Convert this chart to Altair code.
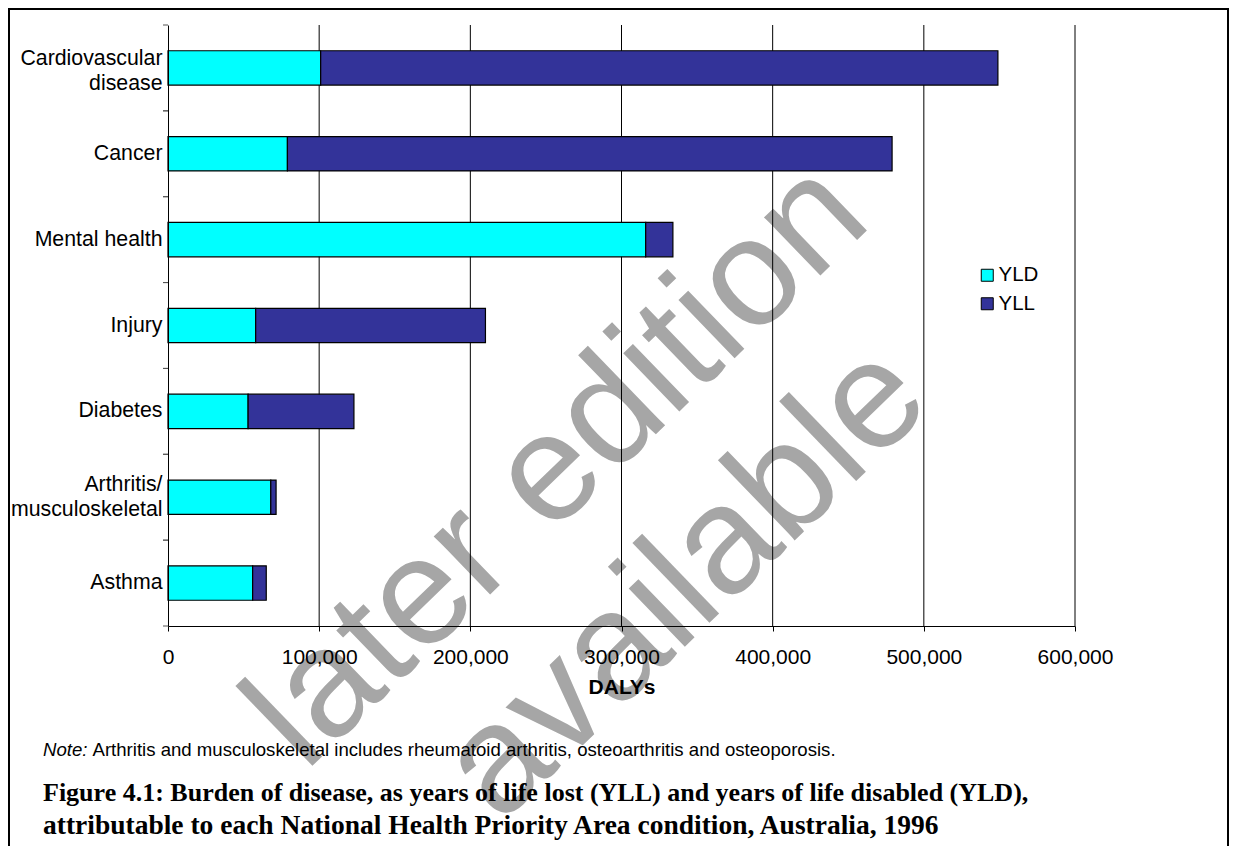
import altair as alt
import pandas as pd

# ---- data ----
axis_labels = [
    "Cardiovascular|disease\u00a0",
    "Cancer",
    "Mental health",
    "Injury",
    "Diabetes",
    "Arthritis/\u00a0|musculoskeletal",
    "Asthma",
]
yld = [101000, 79000, 316000, 58000, 53000, 68000, 56000]
yll = [448000, 400000, 18000, 152000, 70000, 3500, 9000]
series = ["YLD", "YLL"]
colors = ["#00FFFF", "#333399"]
x_ticks = [0, 100000, 200000, 300000, 400000, 500000, 600000]
grid_values = [100000, 200000, 300000, 400000, 500000, 600000]

note_lead = "Note:"
note_rest = "Arthritis and musculoskeletal includes rheumatoid arthritis, osteoarthritis and osteoporosis."
caption_1 = "Figure 4.1: Burden of disease, as years of life lost (YLL) and years of life disabled (YLD),"
caption_2 = "attributable to each National Health Priority Area condition, Australia, 1996"
watermark_1 = "later edition"
watermark_2 = "available"

SANS = "Liberation Sans, Arial, Helvetica, sans-serif"
SERIF = "Book Antiqua, Palatino Linotype, Liberation Serif, serif"

rows = []
for lab, a, b in zip(axis_labels, yld, yll):
    rows.append({"label": lab, "series": "YLD", "value": a, "ord": 0})
    rows.append({"label": lab, "series": "YLL", "value": b, "ord": 1})
df = pd.DataFrame(rows)
grid_df = pd.DataFrame({"value": grid_values})
cat_df = pd.DataFrame({"label": axis_labels})
one = pd.DataFrame({"k": [0]})

y_scale = alt.Scale(paddingInner=0, paddingOuter=0)
x_scale = alt.Scale(domain=[0, 600000], nice=False)

x_axis = alt.Axis(
    values=x_ticks, format=",d", grid=False, ticks=True, tickSize=5,
    tickColor="black", domainColor="black", labelFontSize=21, labelFont=SANS,
    labelColor="black", labelPadding=15, labelFlush=False, title="DALYs",
    titleFont=SANS, titleFontSize=21, titleFontWeight="bold", titleColor="black",
    titlePadding=9, zindex=1,
)
y_axis = alt.Axis(
    title=None, ticks=False, domainColor="black", labelFontSize=21.3, labelFont=SANS,
    labelColor="black", labelPadding=6, labelExpr="split(datum.value, '|')",
    labelLineHeight=25, labelLimit=400, zindex=1,
    labelOffset={
        "condition": [
            {"test": "indexof(datum.value, 'Cardio') >= 0", "value": -8.5},
            {"test": "indexof(datum.value, '|') >= 0", "value": -12.5},
        ],
        "value": 0,
    },
)

border = alt.Chart(one).mark_rect(fill="white", fillOpacity=0, stroke="black", strokeWidth=2).encode(
    x=alt.value(-159), x2=alt.value(1060), y=alt.value(-16), y2=alt.value(822)
)

wm1 = alt.Chart(one).mark_text(
    text=watermark_1, font=SANS, fontSize=153, color="#a6a6a6", angle=316,
    align="left", baseline="alphabetic"
).encode(x=alt.value(137), y=alt.value(748))

wm2 = alt.Chart(one).mark_text(
    text=watermark_2, font=SANS, fontSize=153, color="#a6a6a6", angle=316,
    align="left", baseline="alphabetic"
).encode(x=alt.value(332), y=alt.value(800))

grid = alt.Chart(grid_df).mark_rule(color="black", strokeWidth=1).encode(
    x=alt.X("value:Q", scale=x_scale, axis=x_axis),
    y=alt.value(0), y2=alt.value(601),
)

bars = alt.Chart(df).mark_bar(height={"band": 0.4}, stroke="black", strokeWidth=1.2).encode(
    x=alt.X("value:Q", stack="zero", scale=x_scale, axis=x_axis),
    y=alt.Y("label:N", sort=axis_labels, scale=y_scale, axis=y_axis),
    color=alt.Color(
        "series:N", scale=alt.Scale(domain=series, range=colors),
        legend=alt.Legend(
            title=None, orient="none", legendX=809, legendY=240, symbolType="square",
            symbolSize=144, symbolStrokeColor="black", symbolStrokeWidth=1,
            labelFontSize=20.5, labelFont=SANS, labelColor="black", labelOffset=1,
            rowPadding=7.5, padding=0, symbolOffset=0,
        ),
    ),
    order=alt.Order("ord:Q"),
)

ticks_top = alt.Chart(cat_df).mark_rule(color="#555555", strokeWidth=1).encode(
    y=alt.Y("label:N", sort=axis_labels, scale=y_scale, bandPosition=0, axis=y_axis),
    x=alt.value(-5), x2=alt.value(0),
)
ticks_bottom = alt.Chart(cat_df).mark_rule(color="#555555", strokeWidth=1).encode(
    y=alt.Y("label:N", sort=axis_labels, scale=y_scale, bandPosition=1, axis=y_axis),
    x=alt.value(-5), x2=alt.value(0),
)

note1 = alt.Chart(one).mark_text(
    text=note_lead, font=SANS, fontSize=18.6, fontStyle="italic", color="black",
    align="left", baseline="alphabetic"
).encode(x=alt.value(-125), y=alt.value(731))
note2 = alt.Chart(one).mark_text(
    text=note_rest, font=SANS, fontSize=18.6, color="black",
    align="left", baseline="alphabetic"
).encode(x=alt.value(-75.5), y=alt.value(731))

cap1 = alt.Chart(one).mark_text(
    text=caption_1, font=SERIF, fontSize=26, fontWeight="bold", color="black",
    align="left", baseline="alphabetic"
).encode(x=alt.value(-125), y=alt.value(776))
cap2 = alt.Chart(one).mark_text(
    text=caption_2, font=SERIF, fontSize=27.5, fontWeight="bold", color="black",
    align="left", baseline="alphabetic"
).encode(x=alt.value(-125), y=alt.value(809))

chart = alt.layer(
    border, wm1, wm2, grid, bars, ticks_top, ticks_bottom, note1, note2, cap1, cap2
).properties(
    width=907, height=601,
    padding={"left": 160, "top": 17, "right": 154, "bottom": 220},
    autosize=alt.AutoSizeParams(type="none"),
    background="white",
).configure_view(stroke="transparent")

chart.save("out.html", embed_options={"renderer": "svg", "actions": False})
